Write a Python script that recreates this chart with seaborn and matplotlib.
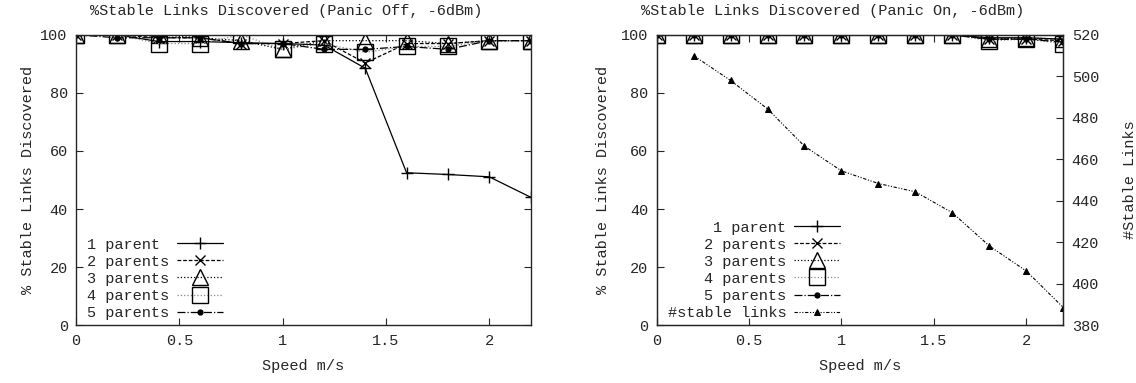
import matplotlib
matplotlib.use("Agg")
import matplotlib.pyplot as plt
import seaborn as sns

# datos
speed = [0, 0.2, 0.4, 0.6, 0.8, 1.0, 1.2, 1.4, 1.6, 1.8, 2.0, 2.2]

# Panic Off
off_1p = [100, 100, 97.7, 97.7, 97.3, 97, 96.5, 88.5, 52.5, 51.9, 51.1, 44.1]
off_2p = [100, 100, 99, 99, 97, 97, 98, 90.3, 97, 97, 98, 98]
off_3p = [100, 100, 100, 99, 98, 95, 98, 98, 98, 97, 98, 98]
off_4p = [100, 100, 97, 97, 100, 95, 97, 94, 96, 96, 98, 98]
off_5p = [100, 99, 99, 99, 97, 97, 95, 95, 96, 95, 98, 98]

# Panic On
on_1p = [100, 100, 100, 100, 100, 100, 100, 100, 100, 99, 99, 98.5]
on_2p = [100, 100, 100, 100, 100, 100, 100, 100, 100, 98.5, 98.5, 98]
on_3p = [100, 100, 100, 100, 100, 100, 100, 100, 100, 98.5, 99, 98.5]
on_4p = [100, 100, 100, 100, 100, 100, 100, 100, 100, 98, 98.5, 97]
on_5p = [100, 100, 100, 100, 100, 100, 100, 100, 100, 98.5, 98.5, 97.5]

speed_links = [0.2, 0.4, 0.6, 0.8, 1.0, 1.2, 1.4, 1.6, 1.8, 2.0, 2.2]
stable_links = [510, 498, 484.3, 466.3, 454.4, 448.3, 444.3, 434.2, 418.2, 406.1, 388.5]

labels = ['1 parent', '2 parents', '3 parents', '4 parents', '5 parents']

sns.set_style("ticks")
plt.rcParams['font.family'] = ['Liberation Mono', 'DejaVu Sans Mono']
plt.rcParams['font.size'] = 11
plt.rcParams['xtick.direction'] = 'in'
plt.rcParams['ytick.direction'] = 'in'

# estilo de cada serie (tipo gnuplot)
estilos = [
    dict(marker='+', linestyle='-', color='black', markersize=8),
    dict(marker='x', linestyle=(0, (3, 1.5)), color='black', markersize=7),
    dict(marker='^', linestyle=':', color='black', markersize=11, markerfacecolor='none'),
    dict(marker='s', linestyle=':', color='#888888', markersize=11, markerfacecolor='none'),
    dict(marker='o', linestyle='-.', color='black', markersize=3.5, markerfacecolor='black'),
]

fig = plt.figure(figsize=(11.36, 3.83), dpi=100)
ax1 = fig.add_axes([0.067, 0.151, 0.400, 0.758])
ax2 = fig.add_axes([0.578, 0.151, 0.358, 0.758])


def dibujar(ax, series, etiquetas):
    for vals, lab, st in zip(series, etiquetas, estilos):
        sns.lineplot(x=speed, y=vals, ax=ax, label=lab, linewidth=0.9,
                     markeredgecolor='black', markeredgewidth=1, **st)
    ax.set_xlim(0, 2.2)
    ax.set_ylim(0, 100)
    ax.set_xticks([0, 0.5, 1, 1.5, 2])
    ax.set_xticklabels(['0', '0.5', '1', '1.5', '2'])
    ax.set_yticks(range(0, 101, 20))
    ax.set_xlabel('Speed m/s', labelpad=8)
    ax.set_ylabel('% Stable Links Discovered', labelpad=8)
    ax.tick_params(top=True, right=True, length=5, width=0.8, pad=6)
    for s in ax.spines.values():
        s.set_visible(True)
        s.set_linewidth(1)


# texto alineado a la izquierda en la primera leyenda
dibujar(ax1, [off_1p, off_2p, off_3p, off_4p, off_5p], [l.ljust(9) for l in labels])
ax1.yaxis.labelpad = 4
ax1.legend(loc='lower left', bbox_to_anchor=(0.025, 0.018), frameon=False, markerfirst=False,
           handlelength=3.0, handletextpad=0.5, labelspacing=0.2, borderaxespad=0, borderpad=0)

dibujar(ax2, [on_1p, on_2p, on_3p, on_4p, on_5p], labels)
ax2.tick_params(right=False)

ax3 = ax2.twinx()
sns.lineplot(x=speed_links, y=stable_links, ax=ax3, label='#stable links', color='black',
             linestyle=(0, (3, 1.5, 1, 1.5, 1, 1.5)), linewidth=0.8, marker='^', markersize=4.5,
             markeredgecolor='black')
ax3.set_ylim(380, 520)
ax3.set_yticks(range(380, 521, 20))
ax3.set_ylabel('#Stable Links', labelpad=17)
ax3.tick_params(direction='in', length=5, pad=6)
ax3.get_legend().remove()

h1, l1 = ax2.get_legend_handles_labels()
h3, l3 = ax3.get_legend_handles_labels()
ax3.legend(h1 + h3, l1 + l3, loc='lower left', bbox_to_anchor=(0.027, 0.018), frameon=False,
           markerfirst=False, handlelength=3.0, handletextpad=0.5, labelspacing=0.2,
           borderaxespad=0, borderpad=0)
ax2.get_legend().remove()

fig.text(0.252, 0.972, '%Stable Links Discovered (Panic Off, -6dBm)', ha='center', va='center')
fig.text(0.733, 0.972, '%Stable Links Discovered (Panic On, -6dBm)', ha='center', va='center')

plt.savefig('out.png', dpi=100)
